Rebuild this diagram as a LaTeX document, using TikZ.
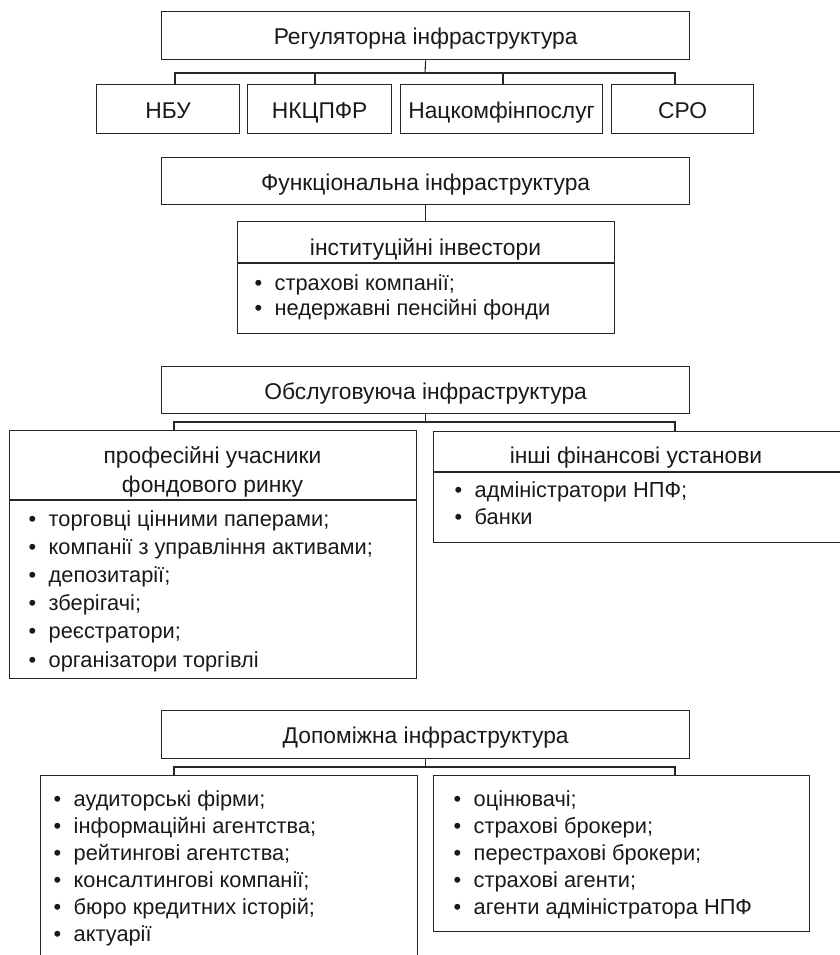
\documentclass[tikz,border=0pt]{standalone}
\usepackage{fontspec}
\setmainfont{Liberation Sans}
\newcommand\myfs{\fontsize{21.8}{28}\selectfont}
\newcommand\myfsb{\fontsize{22.8}{28}\selectfont}
\newcommand\bul{\makebox[20pt][l]{•}}
\begin{document}
\begin{tikzpicture}[x=1pt,y=-1pt,
  box/.style={draw=black!85, line width=1.3pt, inner sep=0pt, anchor=north west, font=\myfsb, text=black!90, text height=18pt, text depth=0pt},
  conn/.style={draw=black!85, line width=1.1pt},
  item/.style={anchor=base west, inner sep=0pt, font=\myfs, text=black!90},
  hdr/.style={anchor=base, inner sep=0pt, font=\myfsb, text=black!90}]
\useasboundingbox (0,0) rectangle (839,955);
% ---------------- Regulatory
\node[box, minimum width=528pt, minimum height=48pt] (reg) at (161,11) {Регуляторна інфраструктура};
\node[box, minimum width=143pt, minimum height=49pt] (nbu) at (96,84) {НБУ};
\node[box, minimum width=144pt, minimum height=49pt] (nkc) at (247,84) {НКЦПФР};
\node[box, minimum width=202pt, minimum height=49pt] (nac) at (400,84) {Нацкомфінпослуг};
\node[box, minimum width=142pt, minimum height=49pt] (sro) at (611,84) {СРО};
\coordinate (rb) at (425,73);
\coordinate (rb1) at (175,73);
\coordinate (rb2) at (315,73);
\coordinate (rb3) at (503,73);
\coordinate (rb4) at (675,73);
\draw[conn] (reg.south) -- (rb);
\draw[conn] (nbu.north -| rb1) -- (rb1) -- (rb4) -- (sro.north -| rb4);
\draw[conn] (nkc.north -| rb2) -- (rb2);
\draw[conn] (nac.north -| rb3) -- (rb3);
\draw[conn, line width=1.8pt] (rb2) -- (rb3);
% ---------------- Functional
\node[box, minimum width=528pt, minimum height=47pt] (fun) at (161,157) {Функціональна інфраструктура};
\node[box, minimum width=377pt, minimum height=112pt] (inst) at (237,221) {};
\draw[conn] (fun.south) -- (fun.south |- inst.north);
\coordinate (instd) at (0,263);
\draw[conn] (inst.west |- instd) -- (inst.east |- instd);
\node[hdr] (insth) at (425.5,255) {інституційні інвестори};
\node[item] (inst1) at (254.5,290) {\bul страхові компанії;};
\node[item] (inst2) at (254.5,315) {\bul недержавні пенсійні фонди};
% ---------------- Service
\node[box, minimum width=528pt, minimum height=47pt] (obs) at (161,366) {Обслуговуюча інфраструктура};
\node[box, minimum width=407pt, minimum height=248pt] (prof) at (9,430) {};
\node[box, minimum width=415pt, minimum height=111pt] (insh) at (433,431) {};
\coordinate (ob1) at (174,422);
\coordinate (ob2) at (675,422);
\draw[conn] (obs.south) -- (obs.south |- ob1);
\draw[conn] (prof.north -| ob1) -- (ob1) -- (ob2) -- (insh.north -| ob2);
\coordinate (profd) at (0,500);
\coordinate (inshd) at (0,472);
\draw[conn] (prof.west |- profd) -- (prof.east |- profd);
\draw[conn] (insh.west |- inshd) -- (insh.east |- inshd);
\node[hdr] (profh1) at (212.5,463) {професійні учасники};
\node[hdr] (profh2) at (212.5,492) {фондового ринку};
\node[hdr] (inshh) at (636,463) {інші фінансові установи};
\foreach [count=\i] \t in {торговці цінними паперами;, компанії з управління активами;, депозитарії;, зберігачі;, реєстратори;, організатори торгівлі}
  \node[item] (prof\i) at (28.5,{526+28.2*(\i-1)}) {\bul\t};
\node[item] (insh1) at (454.5,497) {\bul адміністратори НПФ;};
\node[item] (insh2) at (454.5,524) {\bul банки};
% ---------------- Auxiliary
\node[box, minimum width=528pt, minimum height=48pt] (dop) at (161,710) {Допоміжна інфраструктура};
\node[box, minimum width=377pt, minimum height=200pt] (dl) at (40,775) {};
\node[box, minimum width=376pt, minimum height=156pt] (dr) at (433,775) {};
\coordinate (db1) at (174,767);
\coordinate (db2) at (675,767);
\draw[conn] (dop.south) -- (dop.south |- db1);
\draw[conn] (dl.north -| db1) -- (db1) -- (db2) -- (dr.north -| db2);
\foreach [count=\i] \t in {аудиторські фірми;, інформаційні агентства;, рейтингові агентства;, консалтингові компанії;, бюро кредитних історій;, актуарії}
  \node[item] (dl\i) at (53.5,{806+27*(\i-1)}) {\bul\t};
\foreach [count=\i] \t in {оцінювачі;, страхові брокери;, перестрахові брокери;, страхові агенти;, агенти адміністратора НПФ}
  \node[item] (dr\i) at (453.5,{806+27*(\i-1)}) {\bul\t};
\end{tikzpicture}
\end{document}
